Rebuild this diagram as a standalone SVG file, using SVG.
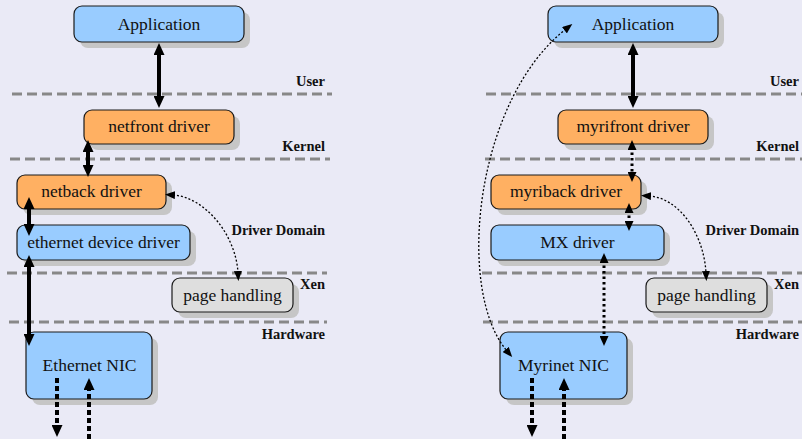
<svg xmlns="http://www.w3.org/2000/svg" width="802" height="439" viewBox="0 0 802 439">
<defs>
<style>
.bg{fill:#eaeaf6}
.sh{fill:#c6c6c6}
.box{stroke:#1a1a1a;stroke-width:1.2}
.blue{fill:#99ccff}
.orange{fill:#ffb062}
.gray{fill:#dedede}
text{font-family:"Liberation Serif","Times New Roman",Times,Tinos,"Nimbus Roman","Noto Serif","DejaVu Serif",FreeSerif,serif}
.t{font-size:17.5px;fill:#111;text-anchor:middle}
.lbl{font-size:14.5px;font-weight:bold;fill:#111;text-anchor:end}
.sep{stroke:#888;stroke-width:3;stroke-dasharray:10 5;fill:none}
.thick{stroke:#000;stroke-width:4;fill:none;marker-start:url(#ah);marker-end:url(#ah)}
.dot{stroke:#000;stroke-width:3;stroke-dasharray:2.5 3;fill:none;marker-start:url(#as);marker-end:url(#as)}
.dash{stroke:#000;stroke-width:4;stroke-dasharray:5 3;fill:none}
.thin{stroke:#000;stroke-width:1.3;stroke-dasharray:2 2;fill:none;marker-start:url(#at);marker-end:url(#at)}
</style>
<marker id="ah" markerUnits="userSpaceOnUse" markerWidth="12" markerHeight="11" refX="4" refY="5.5" orient="auto-start-reverse"><path d="M0,0 L12,5.5 L0,11 z" fill="#000"/></marker>
<marker id="as" markerUnits="userSpaceOnUse" markerWidth="10" markerHeight="9" refX="3" refY="4.5" orient="auto-start-reverse"><path d="M0,0 L10,4.5 L0,9 z" fill="#000"/></marker>
<marker id="at" markerUnits="userSpaceOnUse" markerWidth="10" markerHeight="8" refX="2" refY="4" orient="auto-start-reverse"><path d="M0,0 L10,4 L0,8 z" fill="#000"/></marker>
<marker id="ad" markerUnits="userSpaceOnUse" markerWidth="12" markerHeight="11" refX="4" refY="5.5" orient="auto"><path d="M0,0 L12,5.5 L0,11 z" fill="#000"/></marker>
</defs>
<rect class="bg" x="0" y="0" width="802" height="439"/>

<g id="separators">
<line class="sep" x1="12" y1="94" x2="332" y2="94"/>
<line class="sep" x1="10" y1="159" x2="330" y2="159"/>
<line class="sep" x1="7" y1="273" x2="327" y2="273"/>
<line class="sep" x1="9" y1="322" x2="327" y2="322"/>
<line class="sep" x1="486" y1="94" x2="802" y2="94"/>
<line class="sep" x1="485" y1="159" x2="802" y2="159"/>
<line class="sep" x1="482" y1="273" x2="802" y2="273"/>
<line class="sep" x1="483" y1="322" x2="802" y2="322"/>
</g>

<g id="layer-labels">
<text class="lbl" x="325" y="86">User</text>
<text class="lbl" x="325" y="151">Kernel</text>
<text class="lbl" x="325" y="235">Driver Domain</text>
<text class="lbl" x="325" y="289">Xen</text>
<text class="lbl" x="325" y="339">Hardware</text>
<text class="lbl" x="799" y="86">User</text>
<text class="lbl" x="799" y="151">Kernel</text>
<text class="lbl" x="799" y="235">Driver Domain</text>
<text class="lbl" x="799" y="289">Xen</text>
<text class="lbl" x="799" y="339">Hardware</text>
</g>

<g id="nodes">
<g id="app1"><rect class="sh" x="80" y="12" width="170" height="36" rx="8"/><rect class="box blue" x="74" y="6" width="170" height="36" rx="8"/><text class="t" x="159" y="30">Application</text></g>
<g id="netfront"><rect class="sh" x="90" y="116" width="150" height="34" rx="8"/><rect class="box orange" x="84" y="110" width="150" height="34" rx="8"/><text class="t" x="159" y="132">netfront driver</text></g>
<g id="netback"><rect class="sh" x="23" y="181" width="149" height="34" rx="8"/><rect class="box orange" x="17" y="175" width="149" height="34" rx="8"/><text class="t" x="91.5" y="197">netback driver</text></g>
<g id="ethdrv"><rect class="sh" x="23" y="231" width="173" height="35" rx="8"/><rect class="box blue" x="17" y="225" width="173" height="35" rx="8"/><text class="t" x="103.5" y="248">ethernet device driver</text></g>
<g id="page1"><rect class="sh" x="178" y="284" width="121" height="34" rx="8"/><rect class="box gray" x="172" y="278" width="121" height="34" rx="8"/><text class="t" x="232.5" y="301">page handling</text></g>
<g id="ethnic"><rect class="sh" x="32" y="338" width="126" height="67" rx="8"/><rect class="box blue" x="26" y="332" width="126" height="67" rx="8"/><text class="t" x="89.5" y="371">Ethernet NIC</text></g>

<g id="app2"><rect class="sh" x="554" y="12" width="170" height="36" rx="8"/><rect class="box blue" x="548" y="6" width="170" height="36" rx="8"/><text class="t" x="633" y="30">Application</text></g>
<g id="myrifront"><rect class="sh" x="564" y="116" width="150" height="34" rx="8"/><rect class="box orange" x="558" y="110" width="150" height="34" rx="8"/><text class="t" x="633" y="132">myrifront driver</text></g>
<g id="myriback"><rect class="sh" x="497" y="181" width="150" height="34" rx="8"/><rect class="box orange" x="491" y="175" width="150" height="34" rx="8"/><text class="t" x="566" y="197">myriback driver</text></g>
<g id="mxdrv"><rect class="sh" x="497" y="231" width="173" height="35" rx="8"/><rect class="box blue" x="491" y="225" width="173" height="35" rx="8"/><text class="t" x="577.5" y="248">MX driver</text></g>
<g id="page2"><rect class="sh" x="652" y="284" width="121" height="34" rx="8"/><rect class="box gray" x="646" y="278" width="121" height="34" rx="8"/><text class="t" x="706.5" y="301">page handling</text></g>
<g id="myrinic"><rect class="sh" x="506" y="338" width="127" height="67" rx="8"/><rect class="box blue" x="500" y="332" width="127" height="67" rx="8"/><text class="t" x="563.5" y="371">Myrinet NIC</text></g>
</g>

<g id="connectors">
<line class="thick" x1="159" y1="51" x2="159" y2="100"/>
<line class="thick" x1="88" y1="148" x2="88" y2="169"/>
<line class="thick" x1="29" y1="205" x2="29" y2="228"/>
<line class="thick" x1="29" y1="263" x2="29" y2="338"/>
<path class="thin" d="M173,195 C205,197 236,235 238,273"/>
<line class="dash" x1="57" y1="378" x2="57" y2="429" marker-end="url(#ad)"/>
<line class="dash" x1="89" y1="439" x2="89" y2="386" marker-end="url(#ad)"/>

<line class="thick" x1="633" y1="51" x2="633" y2="100"/>
<line class="dot" x1="632" y1="147" x2="632" y2="175"/>
<line class="dot" x1="629" y1="210" x2="629" y2="224"/>
<line class="dot" x1="604" y1="260" x2="604" y2="339"/>
<path class="thin" d="M649,196 C680,198 704,235 706,273"/>
<path class="thin" d="M566,29 C475,100 455,290 507,351"/>
<line class="dash" x1="532" y1="378" x2="532" y2="429" marker-end="url(#ad)"/>
<line class="dash" x1="564" y1="439" x2="564" y2="386" marker-end="url(#ad)"/>
</g>
</svg>
